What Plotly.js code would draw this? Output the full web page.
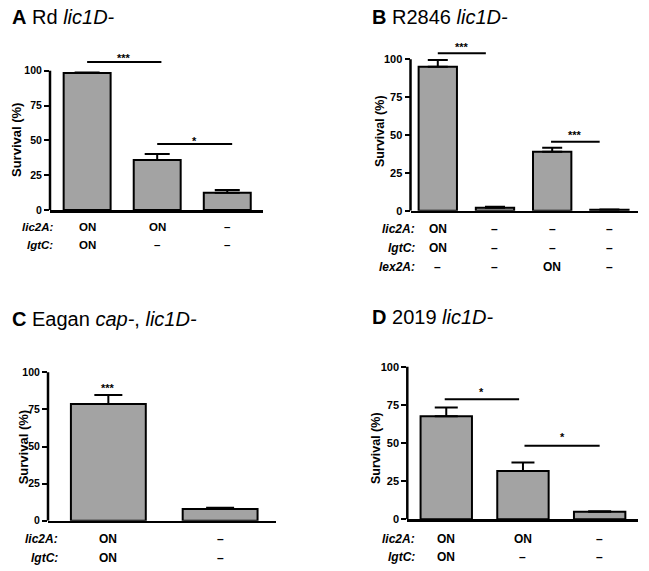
<!DOCTYPE html>
<html><head><meta charset="utf-8">
<script src="https://cdn.plot.ly/plotly-3.0.1.min.js"></script>
<style>body{margin:0;background:#fff}#chart{width:649px;height:571px}</style>
</head><body><div id="chart"></div>
<script>
// ---------------- DATA ----------------
const yTickVals = [0, 25, 50, 75, 100];
const yTitleText = 'Survival (%)';

// Panel A: Rd lic1D-
const titleA = '<b>A</b> Rd <i>lic1D-</i>';
const survA = [98.3, 35.9, 12.4];
const errA = [0.4, 4.3, 2.0];
const rowNamesA = ['lic2A:', 'lgtC:'];
const lic2A_A = ['ON', 'ON', '–'];
const lgtC_A = ['ON', '–', '–'];
const sigFromA = [0, 1.0];
const sigToA = [1.06, 2.07];
const sigYA = [106.2, 47.4];
const sigTextA = ['***', '*'];

// Panel B: R2846 lic1D-
const titleB = '<b>B</b> R2846 <i>lic1D-</i>';
const survB = [95.1, 2.0, 39.0, 0.7];
const errB = [4.4, 0.6, 2.6, 0.1];
const rowNamesB = ['lic2A:', 'lgtC:', 'lex2A:'];
const lic2A_B = ['ON', '–', '–', '–'];
const lgtC_B = ['ON', '–', '–', '–'];
const lex2A_B = ['–', '–', 'ON', '–'];
const sigFromB = [0, 1.98];
const sigToB = [0.84, 2.83];
const sigYB = [104, 45.6];
const sigTextB = ['***', '***'];

// Panel C: Eagan cap-, lic1D-
const titleC = '<b>C</b> Eagan <i>cap-</i>, <i>lic1D-</i>';
const survC = [78.6, 7.9];
const errC = [6.1, 0.9];
const rowNamesC = ['lic2A:', 'lgtC:'];
const lic2A_C = ['ON', '–'];
const lgtC_C = ['ON', '–'];
const starTextC = ['***', ''];

// Panel D: 2019 lic1D-
const titleD = '<b>D</b> 2019 <i>lic1D-</i>';
const survD = [67.6, 31.6, 5.0];
const errD = [5.7, 5.7, 0.3];
const rowNamesD = ['lic2A:', 'lgtC:'];
const lic2A_D = ['ON', 'ON', '–'];
const lgtC_D = ['ON', '–', '–'];
const sigFromD = [-0.02, 1.02];
const sigToD = [0.95, 2.0];
const sigYD = [78.6, 48.2];
const sigTextD = ['*', '*'];

// ---------------- STYLE / GEOMETRY ----------------
const W = 649, H = 571, YMAX = 112;
const FONT = 'Liberation Sans, Arial, Helvetica, sans-serif';
const BAR_FILL = '#a3a3a3';

const panels = [
  { title: titleA, surv: survA, err: errA, rows: [lic2A_A, lgtC_A], rowNames: rowNamesA,
    sig: {from: sigFromA, to: sigToA, y: sigYA, text: sigTextA}, star: null,
    g: {left: 50, right: 263, y0: 210, y100: 70.7, xr: [-0.53, 2.51], cap: 12.5,
        titleX: 10, titleY: 16.5, ytX: 17, ytY: 140, ytSize: 13, tickSize: 10.5,
        rowY: [226.5, 245], rowRight: 55, labSize: 11.5, starShift: [4, 3]} },
  { title: titleB, surv: survB, err: errB, rows: [lic2A_B, lgtC_B, lex2A_B], rowNames: rowNamesB,
    sig: {from: sigFromB, to: sigToB, y: sigYB, text: sigTextB}, star: null,
    g: {left: 410.5, right: 638, y0: 210.7, y100: 59.3, xr: [-0.477, 3.5], cap: 10,
        titleX: 370, titleY: 16.5, ytX: 380, ytY: 131, ytSize: 12.5, tickSize: 11,
        rowY: [229, 248, 267.5], rowRight: 417, labSize: 12, starShift: [6, 7]} },
  { title: titleC, surv: survC, err: errC, rows: [lic2A_C, lgtC_C], rowNames: rowNamesC,
    sig: null, star: starTextC,
    g: {left: 48, right: 276, y0: 520.7, y100: 372.3, xr: [-0.54, 1.5], cap: 14,
        titleX: 10, titleY: 319, ytX: 23.3, ytY: 447, ytSize: 13, tickSize: 10.5,
        rowY: [538.7, 557.8], rowRight: 60, labSize: 12, starShift: [7]} },
  { title: titleD, surv: survD, err: errD, rows: [lic2A_D, lgtC_D], rowNames: rowNamesD,
    sig: {from: sigFromD, to: sigToD, y: sigYD, text: sigTextD}, star: null,
    g: {left: 407.3, right: 638, y0: 519.3, y100: 366.7, xr: [-0.508, 2.5], cap: 11.5,
        titleX: 370, titleY: 317, ytX: 376.7, ytY: 448.3, ytSize: 12.5, tickSize: 11,
        rowY: [538.5, 556.7], rowRight: 416.7, labSize: 12, starShift: [7, 9]} }
];

const traces = [], shapes = [], annotations = [];
const layout = {
  width: W, height: H, margin: {l: 0, r: 0, t: 0, b: 0},
  paper_bgcolor: '#fff', plot_bgcolor: 'rgba(0,0,0,0)', showlegend: false,
  font: {family: FONT, color: '#000'}, bargap: 0
};

panels.forEach((p, i) => {
  const n = i === 0 ? '' : String(i + 1);
  const xid = 'x' + n, yid = 'y' + n;
  const g = p.g;
  const ppu = (g.y0 - g.y100) / 100;
  const topPx = g.y0 - YMAX * ppu;
  const cats = p.surv.map((_, k) => k);

  layout['xaxis' + n] = {
    domain: [g.left / W, g.right / W], range: g.xr, anchor: yid,
    showline: true, linecolor: '#000', linewidth: 2.5, ticks: '', showticklabels: false,
    showgrid: false, zeroline: false, fixedrange: true
  };
  layout['yaxis' + n] = {
    domain: [1 - g.y0 / H, 1 - topPx / H], range: [0, YMAX], anchor: xid,
    tickvals: yTickVals, ticktext: yTickVals.map(String), ticks: 'outside', ticklen: 5, tickwidth: 2,
    tickcolor: '#000', showline: false, showgrid: false, zeroline: false, fixedrange: true,
    tickfont: {family: FONT, size: g.tickSize, weight: 'bold', color: '#000'}
  };

  traces.push({
    type: 'bar', x: cats, y: p.surv, xaxis: xid, yaxis: yid, width: 0.67,
    marker: {color: BAR_FILL, line: {color: '#000', width: 2}},
    error_y: {type: 'data', symmetric: false, array: p.err, arrayminus: p.err.map(() => 0),
      color: '#000', thickness: 2, width: g.cap},
    hoverinfo: 'skip'
  });

  // y axis line from 0 to 100
  shapes.push({type: 'line', xref: xid + ' domain', x0: 0, x1: 0, yref: yid, y0: 0, y1: 100,
    line: {color: '#000', width: 2.5}});

  // significance bars
  if (p.sig) {
    p.sig.from.forEach((f, k) => {
      shapes.push({type: 'line', xref: xid, yref: yid, x0: f, x1: p.sig.to[k],
        y0: p.sig.y[k], y1: p.sig.y[k], line: {color: '#000', width: 2}});
      annotations.push({xref: xid, yref: yid, x: (f + p.sig.to[k]) / 2, y: p.sig.y[k],
        text: p.sig.text[k], showarrow: false, yanchor: 'middle', yshift: g.starShift[k],
        font: {family: FONT, size: 11, weight: 'bold', color: '#000'}});
    });
  }
  if (p.star) {
    p.star.forEach((s, k) => {
      if (!s) return;
      annotations.push({xref: xid, yref: yid, x: k, y: p.surv[k] + p.err[k],
        text: s, showarrow: false, yanchor: 'middle', yshift: g.starShift[k],
        font: {family: FONT, size: 11, weight: 'bold', color: '#000'}});
    });
  }

  // panel title
  annotations.push({xref: 'paper', yref: 'paper', x: g.titleX / W, y: 1 - g.titleY / H,
    xanchor: 'left', yanchor: 'middle', text: p.title, showarrow: false,
    font: {family: FONT, size: 20, color: '#000'}});

  // y axis title
  annotations.push({xref: 'paper', yref: 'paper', x: g.ytX / W, y: 1 - g.ytY / H,
    xanchor: 'center', yanchor: 'middle', textangle: -90, text: yTitleText, showarrow: false,
    font: {family: FONT, size: g.ytSize, weight: 'bold', color: '#000'}});

  // genotype rows
  p.rows.forEach((row, r) => {
    const yp = 1 - g.rowY[r] / H;
    annotations.push({xref: 'paper', yref: 'paper', x: g.rowRight / W, y: yp,
      xanchor: 'right', yanchor: 'middle', text: p.rowNames[r], showarrow: false,
      font: {family: FONT, size: g.labSize, weight: 'bold', style: 'italic', color: '#000'}});
    row.forEach((lab, k) => {
      annotations.push({xref: xid, yref: 'paper', x: k, y: yp,
        xanchor: 'center', yanchor: 'middle', text: lab, showarrow: false,
        font: {family: FONT, size: g.labSize, weight: 'bold', color: '#000'}});
    });
  });
});

layout.shapes = shapes;
layout.annotations = annotations;
Plotly.newPlot('chart', traces, layout, {staticPlot: true, displayModeBar: false});
</script>
</body></html>
